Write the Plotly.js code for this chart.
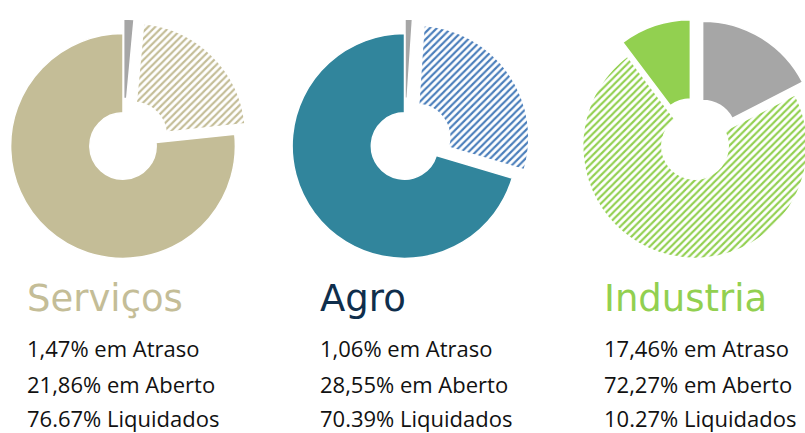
<!DOCTYPE html>
<html>
<head>
<meta charset="utf-8">
<script src="https://cdn.plot.ly/plotly-3.0.1.min.js"></script>
<style>
  html, body { margin:0; padding:0; background:#ffffff; overflow:hidden; width:805px; height:433px; }
  #chart { position:absolute; left:-30px; top:0; width:865px; height:433px; }
</style>
</head>
<body>
<div id="chart"></div>
<script>
// ---- data ----
const sectors = ['Serviços', 'Agro', 'Industria'];
const statusLabels = ['em Atraso', 'em Aberto', 'Liquidados'];
const servicosValues = [1.47, 21.86, 76.67];
const agroValues = [1.06, 28.55, 70.39];
const industriaValues = [17.46, 72.27, 10.27];
const decimalSeparators = [',', ',', '.'];
const lineSuffixes = [' em Atraso', ' em Aberto', ' Liquidados'];

// ---- styles ----
const W = 865, H = 433, OFF = 30;
const grey = '#a6a6a6';
const styles = [
  { solid: '#c4bd97', hatch: '#c4bd97', title: '#c4bd97', cx: 123, pulls: [0.13, 0.13, 0], textX: 28 },
  { solid: '#31859c', hatch: '#4a7ebb', title: '#0f2e4c', cx: 404.5, pulls: [0.13, 0.13, 0], textX: 321 },
  { solid: '#92d050', hatch: '#92d050', title: '#92d050', cx: 695, pulls: [0.13, 0, 0.13], textX: 605 }
];
const allValues = [servicosValues, agroValues, industriaValues];
const cy = 146, half = 127;

const traces = sectors.map((name, i) => {
  const s = styles[i];
  const px = s.cx + OFF;
  return {
    type: 'pie',
    name: name,
    labels: statusLabels,
    values: allValues[i],
    sort: false,
    direction: 'clockwise',
    rotation: 0,
    hole: 0.295,
    pull: s.pulls,
    textinfo: 'none',
    hoverinfo: 'label+value',
    showlegend: false,
    domain: {
      x: [(px - half) / W, (px + half) / W],
      y: [1 - (cy + half) / H, 1 - (cy - half) / H]
    },
    marker: {
      colors: [grey, '#ffffff', s.solid],
      line: { color: '#ffffff', width: 1.5 },
      pattern: {
        shape: ['', '/', ''],
        fgcolor: [grey, s.hatch, s.solid],
        bgcolor: [grey, '#ffffff', s.solid],
        fillmode: 'replace',
        size: 5,
        solidity: 0.42
      }
    }
  };
});

const fmt = (v, k) => v.toFixed(2).replace('.', decimalSeparators[k]) + '%' + lineSuffixes[k];
const lineY = [348, 383.5, 418];

const annotations = [];
sectors.forEach((name, i) => {
  const s = styles[i];
  annotations.push({
    text: name, xref: 'paper', yref: 'paper', x: (s.textX - 3 + OFF) / W, y: 1 - 298.5 / H,
    xanchor: 'left', yanchor: 'middle', showarrow: false,
    font: { family: 'DejaVu Sans, sans-serif', size: 37, color: s.title, weight: 400 }
  });
  allValues[i].forEach((v, k) => {
    annotations.push({
      text: fmt(v, k), xref: 'paper', yref: 'paper', x: (s.textX - 2 + OFF) / W, y: 1 - lineY[k] / H,
      xanchor: 'left', yanchor: 'middle', showarrow: false, borderpad: 0,
      font: { family: 'Open Sans, sans-serif', size: 22, color: '#111111', weight: 400 }
    });
  });
});

const layout = {
  width: W, height: H,
  margin: { l: 0, r: 0, t: 0, b: 0 },
  paper_bgcolor: '#ffffff',
  showlegend: false,
  annotations: annotations
};

Plotly.newPlot('chart', traces, layout, { displayModeBar: false, staticPlot: true });
</script>
</body>
</html>
